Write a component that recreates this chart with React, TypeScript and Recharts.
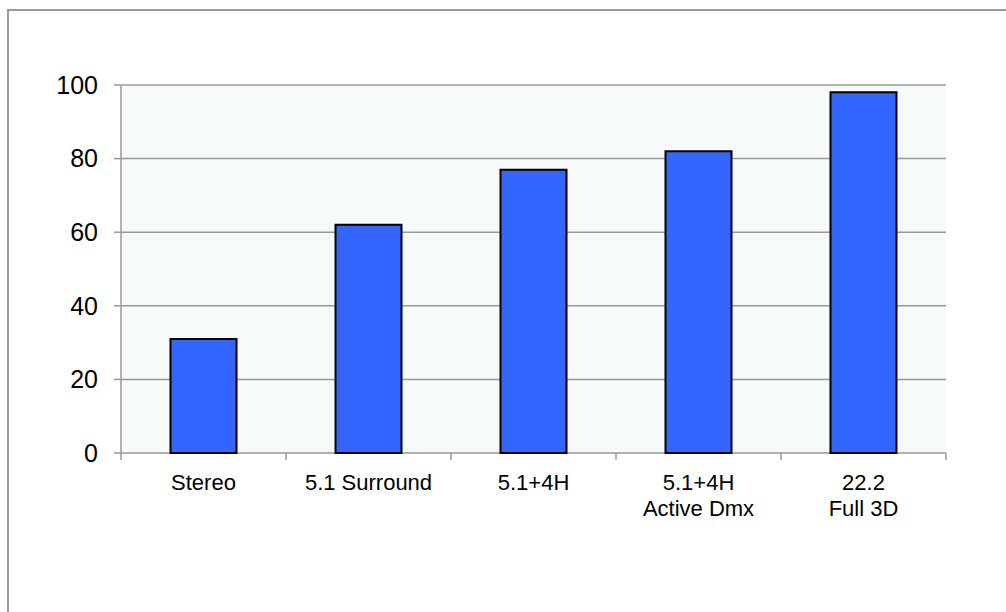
import { BarChart, Bar, XAxis, YAxis, CartesianGrid } from "recharts";

const categories = ["Stereo", "5.1 Surround", "5.1+4H", "5.1+4H\nActive Dmx", "22.2\nFull 3D"];
const values = [31, 62, 77, 82, 98];
const yTicks = [0, 20, 40, 60, 80, 100];
const edgeTicks = [0, 1, 2, 3, 4, 5];

const data = categories.map((name, i) => ({ name, value: values[i] }));

const FONT = "'Liberation Sans', Arial, sans-serif";
const GREY = "#999999";

function CategoryTick({ x, y, payload }: any) {
    const lines = String(payload.value).split("\n");
    return (
        <g>
            {lines.map((line, i) => (
                <text key={i} x={x} y={y + 36 + i * 26} textAnchor="middle"
                    fontSize={22} fontFamily={FONT} fill="#000">
                    {line}
                </text>
            ))}
        </g>
    );
}

export default function App() {
    return (
        <div style={{ position: "absolute", left: 0, top: 0, width: 1006, height: 612, overflow: "hidden", background: "#fff" }}>
            {/* outer frame, right and bottom edges run off the page */}
            <div style={{ position: "absolute", left: 7, top: 9, width: 1100, height: 700, border: `2px solid ${GREY}` }} />
            <div style={{ position: "absolute", left: 0, top: 0 }}>
                <BarChart width={1006} height={612} data={data} barCategoryGap="30%"
                    margin={{ top: 85, right: 60, bottom: 99, left: 61 }}>
                    <CartesianGrid vertical={false} stroke={GREY} strokeWidth={1.5} fill="#f6fafb" />
                    {/* category boundary ticks, sits right on the plot edge */}
                    <XAxis xAxisId={0} type="number" dataKey="value" domain={[0, 5]} ticks={edgeTicks}
                        height={1} interval={0} axisLine={false} tickLine={{ stroke: GREY, strokeWidth: 1.5 }}
                        tickSize={7} tick={() => <g />} allowDataOverflow />
                    <XAxis xAxisId="cat" dataKey="name" height={59} axisLine={false}
                        tickLine={false} tickSize={0} tickMargin={0} interval={0} tick={<CategoryTick />} />
                    <YAxis width={60} domain={[0, 100]} ticks={yTicks} interval={0}
                        axisLine={{ stroke: GREY, strokeWidth: 1.5 }} tickLine={{ stroke: GREY, strokeWidth: 1.5 }}
                        tickSize={7} tickMargin={16}
                        tick={{ fontSize: 25, fontFamily: FONT, fill: "#000" }} />
                    <Bar xAxisId="cat" dataKey="value" fill="#3366ff" stroke="#000" strokeWidth={2} isAnimationActive={false} />
                </BarChart>
            </div>
        </div>
    );
}
